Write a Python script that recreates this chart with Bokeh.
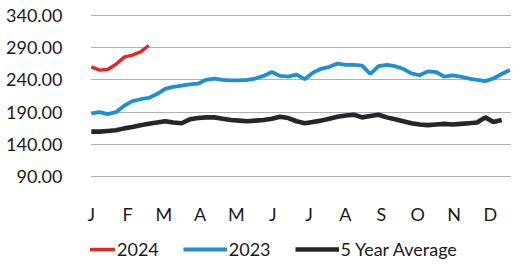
from bokeh.plotting import figure
from bokeh.layouts import column
from bokeh.models import FixedTicker, NumeralTickFormatter, Legend, LegendItem, Range1d
from bokeh.embed import file_html
from bokeh.resources import INLINE

months = ["J", "F", "M", "A", "M", "J", "J", "A", "S", "O", "N", "D"]
y_ticks = [90, 140, 190, 240, 290, 340]

s2024 = [260, 255, 256, 264, 275, 278, 283, 293]
s2023 = [188, 190, 187, 190, 200, 207, 210, 212, 218, 226, 229, 231, 233, 234,
         240, 242, 240, 239, 239, 240, 242, 246, 252, 246, 245, 248, 241, 251,
         257, 260, 265, 263, 263, 262, 249, 261, 263, 261, 257, 250, 247, 253,
         252, 245, 247, 245, 242, 240, 238, 242, 249, 255]
avg5 = [160, 160, 161, 162, 165, 167, 170, 172, 174, 176, 174, 173, 179, 181,
        182, 182, 180, 178, 177, 176, 177, 178, 180, 183, 181, 176, 173, 175,
        177, 180, 183, 185, 186, 182, 184, 186, 182, 179, 176, 173, 171, 170,
        171, 172, 171, 172, 173, 174, 182, 175, 178]

FONT = "Lato"
C24, C23, C5 = "#e3262a", "#1e8fd2", "#262626"
W24, W23, W5 = 3.4, 3.8, 4.6

p = figure(width=511, height=227, output_backend="svg", toolbar_location=None,
           x_range=Range1d(-0.1, 51.2), y_range=Range1d(83, 347),
           min_border_left=90, min_border_right=0, min_border_top=10,
           min_border_bottom=40)
p.outline_line_color = None

p.line(list(range(len(s2024))), s2024, line_color=C24, line_width=W24)
p.line(list(range(len(s2023))), s2023, line_color=C23, line_width=W23)
p.line(list(range(len(avg5))), avg5, line_color=C5, line_width=W5)

month_ticks = [round(i * 4.42, 2) for i in range(len(months))]
p.xaxis.ticker = FixedTicker(ticks=month_ticks)
p.xaxis.major_label_overrides = {t: m for t, m in zip(month_ticks, months)}
p.yaxis.ticker = FixedTicker(ticks=y_ticks)
p.yaxis.formatter = NumeralTickFormatter(format="0.00")

for ax in (p.xaxis, p.yaxis):
    ax.axis_line_color = None
    ax.major_tick_line_color = None
    ax.minor_tick_line_color = None
    ax.major_label_text_font = FONT
    ax.major_label_text_font_size = "18px"
    ax.major_label_text_color = "#1a1a1a"
p.xaxis.major_label_standoff = 15
p.yaxis.major_label_standoff = 22

p.xgrid.grid_line_color = None
p.ygrid.grid_line_color = "#b0b0b8"
p.ygrid.grid_line_width = 1

# legend strip: same series drawn far outside its (0..1) y range, so only
# their legend glyphs are visible
q = figure(width=511, height=33, output_backend="svg", toolbar_location=None,
           x_range=Range1d(0, 1), y_range=Range1d(0, 1),
           x_axis_type=None, y_axis_type=None,
           min_border_left=0, min_border_right=0, min_border_top=0,
           min_border_bottom=0)
q.outline_line_color = None
q.grid.visible = False
l24 = q.line(list(range(len(s2024))), s2024, line_color=C24, line_width=W24)
l23 = q.line(list(range(len(s2023))), s2023, line_color=C23, line_width=W23)
l5 = q.line(list(range(len(avg5))), avg5, line_color=C5, line_width=W5)

legend = Legend(items=[LegendItem(label="2024", renderers=[l24]),
                       LegendItem(label="2023", renderers=[l23]),
                       LegendItem(label="5 Year Average", renderers=[l5])],
                orientation="horizontal", location=(-19, 0),
                glyph_width=44, glyph_height=20, label_standoff=2, spacing=24,
                padding=0, margin=0, border_line_color=None,
                background_fill_alpha=0,
                label_text_font=FONT, label_text_font_size="18px",
                label_text_color="#1a1a1a")
q.add_layout(legend, "center")

open("out.html", "w").write(file_html(column(p, q, spacing=0), INLINE))
